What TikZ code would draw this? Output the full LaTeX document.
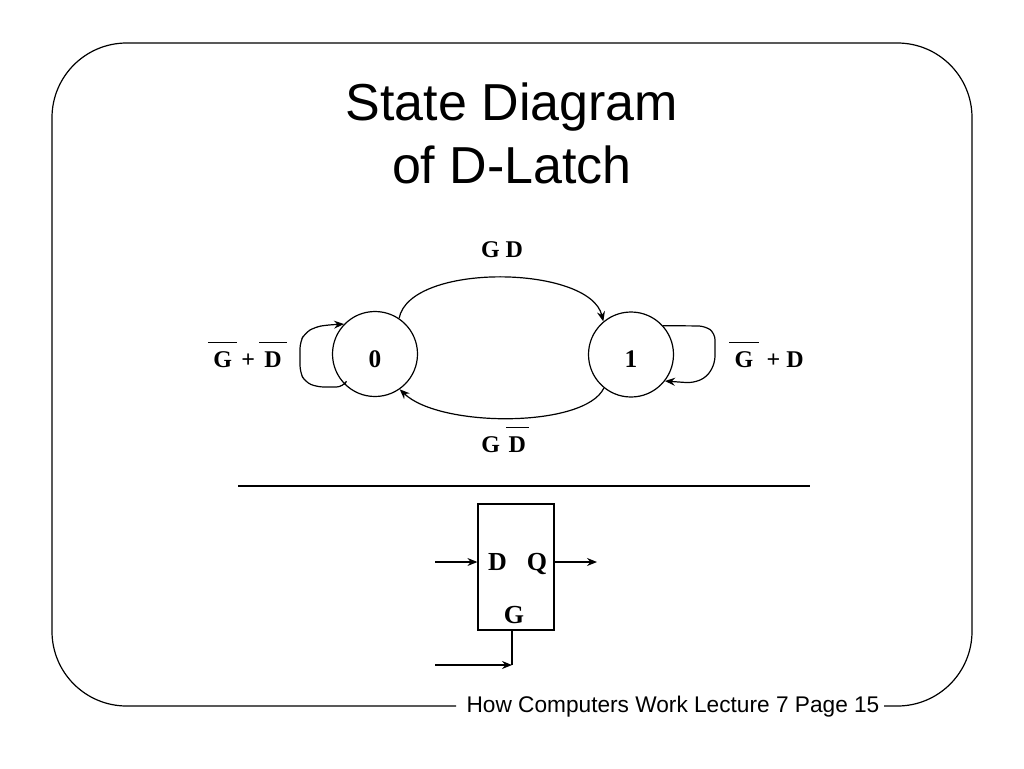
\documentclass[tikz,border=0pt]{standalone}
\usepackage{fontspec}
\setmainfont{Liberation Serif}
\setsansfont{Liberation Sans}
\usepackage{tikz}
\usetikzlibrary{arrows.meta}
\newcommand{\ovl}[2][4pt]{$\overline{\rule{0pt}{17.3pt}\mbox{\hspace{#1}#2\hspace{#1}}}$}

\begin{document}
\begin{tikzpicture}[x=0.75pt,y=-0.75pt,line width=0.9pt,
    >={Stealth[length=7.5pt,width=6pt,inset=2.5pt]},
    state/.style={circle,draw,minimum size=63.75pt,inner sep=0pt,
      text height=20pt,text depth=0pt,font=\fontsize{19}{22}\selectfont\bfseries},
    lbl/.style={anchor=base,inner sep=0pt,font=\fontsize{18}{21}\selectfont\bfseries},
    pinlbl/.style={anchor=base,inner sep=0pt,font=\fontsize{19.5}{22}\selectfont\bfseries},
    headline/.style={anchor=base,inner sep=0pt,font=\fontsize{39}{47}\selectfont\sffamily}]
  \useasboundingbox (0,0) rectangle (1024,768);
  % frame, open at the footer
  \draw[rounded corners=56pt] (456,706) -- (52,706) -- (52,43) -- (972,43)
    -- (972,706) -- (884,706);
  \node[anchor=base,inner sep=0pt,font=\fontsize{17}{20}\selectfont\sffamily] (foot)
    at (673,712) {How Computers Work Lecture 7 Page 15};
  \node[headline] (title) at (512,120) {State Diagram};
  \node[headline] (subtitle) at (512,183) {of D-Latch};
  % states
  \node[state] (s0) at (375,354) {0};
  \node[state] (s1) at (631,354.5) {1};
  \draw[->] (s0.56) .. controls (410,262) and (590,265) .. (s1.130);
  \draw[->] (s1.231) .. controls (585,428) and (440,428) .. (s0.305);
  \draw[->,rounded corners=5pt] (s0.225) -- (343,387) -- (317,387) -- (305,382)
    -- (300,372) -- (300,342) -- (305,333) -- (315,327) -- (327,325) -- (s0.136);
  \draw[->,rounded corners=5pt] (s1.42) -- (705,326) -- (715,333) -- (715,363)
    -- (707,377) -- (693,383) -- (s1.322);
  \node[lbl] (gd) at (502,257) {G D};
  \node[lbl] (gnd) at (505,452) {G \ovl[2pt]{D}};
  \node[lbl] (hold0) at (247.5,367) {\ovl{G}\,+\,\ovl{D}};
  \node[lbl] (hold1) at (766.5,367) {\ovl{G}\hspace{6pt}+ D};
  % separator
  \coordinate (sepl) at (238,486);
  \coordinate (sepr) at (810,486);
  \draw (sepl) -- (sepr);
  % latch symbol
  \node[draw,minimum width=57pt,minimum height=94.5pt,inner sep=0pt] (latch) at (516,567) {};
  \node[pinlbl] (dpin) at (497.5,570) {D};
  \node[pinlbl] (qpin) at (537,570) {Q};
  \node[pinlbl] (gpin) at (514,623) {G};
  \coordinate (din) at (435,562);
  \coordinate (qout) at (597,562);
  \coordinate (gin) at (435,665);
  \coordinate (gc) at (512,665);
  \draw[->] (din) -- (din -| latch.west);
  \draw[->] (latch.east |- qout) -- (qout);
  \draw (latch.south -| gc) -- (gc);
  \draw[->] (gin) -- (gc);
\end{tikzpicture}
\end{document}
